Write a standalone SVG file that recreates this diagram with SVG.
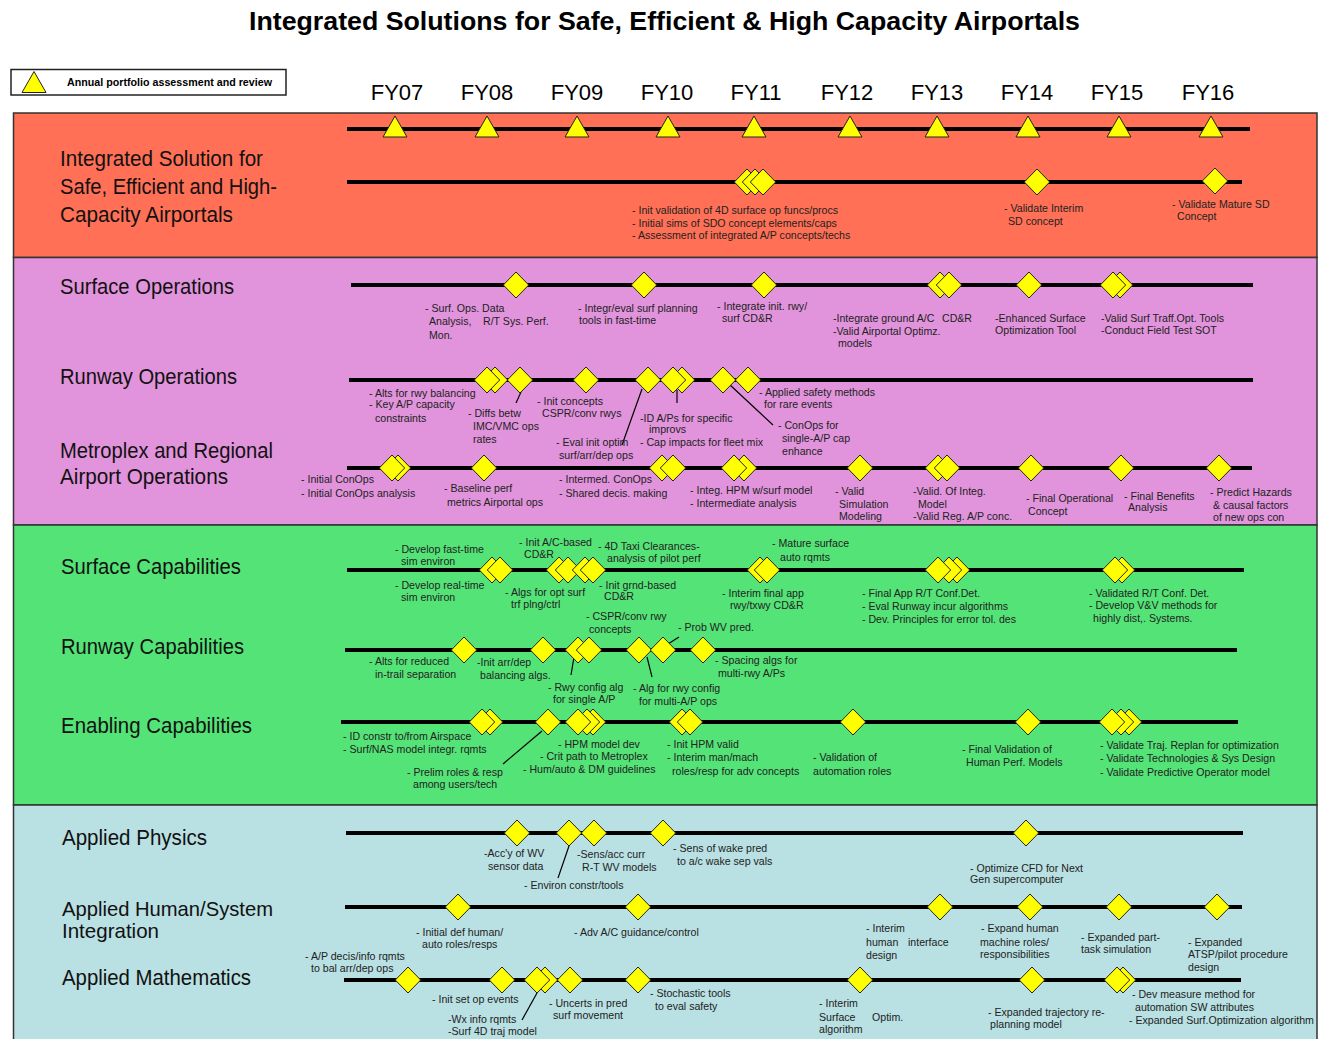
<svg xmlns="http://www.w3.org/2000/svg" width="1321" height="1039" viewBox="0 0 1321 1039">
<style>
.ttl{font-family:"Liberation Sans",Arial,sans-serif;font-weight:bold;font-size:26.7px;fill:#000}
.leg{font-family:"Liberation Sans",Arial,sans-serif;font-weight:bold;font-size:10.7px;fill:#000}
.fy{font-family:"Liberation Sans",Arial,sans-serif;font-size:22px;fill:#000;text-anchor:middle}
.lbl{font-family:"Liberation Sans",Arial,sans-serif;font-size:22px;fill:#111}
.t{font-family:"Liberation Sans",Arial,sans-serif;font-size:10.6px;fill:#222}
.tl{stroke:#000;stroke-width:4;fill:none}
.ld{stroke:#000;stroke-width:1.2;fill:none}
.band{stroke:#333;stroke-width:1.5}
</style>
<defs>
<path id="dm" d="M0,-13 L12.7,0 L0,13 L-12.7,0 Z" fill="#ffff00" stroke="#222" stroke-width="1"/>
<path id="tri" d="M0,-13 L12,8 L-12,8 Z" fill="#ffff00" stroke="#222" stroke-width="1"/>
</defs>
<rect width="1321" height="1039" fill="#fff"/>

<!-- heading -->
<text class="ttl" x="664.5" y="30" text-anchor="middle" textLength="831" lengthAdjust="spacingAndGlyphs">Integrated Solutions for Safe, Efficient &amp; High Capacity Airportals</text>

<!-- legend -->
<g id="legend">
<rect x="11" y="69.5" width="275" height="25.5" fill="#fff" stroke="#222" stroke-width="1.5"/>
<use href="#tri" x="34" y="84.5"/>
<text class="leg" x="67" y="86" textLength="205" lengthAdjust="spacingAndGlyphs">Annual portfolio assessment and review</text>
</g>

<!-- fiscal years -->
<g id="years">
<text class="fy" x="397" y="100">FY07</text>
<text class="fy" x="487" y="100">FY08</text>
<text class="fy" x="577" y="100">FY09</text>
<text class="fy" x="667" y="100">FY10</text>
<text class="fy" x="756" y="100">FY11</text>
<text class="fy" x="847" y="100">FY12</text>
<text class="fy" x="937" y="100">FY13</text>
<text class="fy" x="1027" y="100">FY14</text>
<text class="fy" x="1117" y="100">FY15</text>
<text class="fy" x="1208" y="100">FY16</text>
</g>

<!-- swimlane backgrounds -->
<g id="bands">
<rect class="band" x="13.5" y="113" width="1303.5" height="144.5" fill="#ff7056"/>
<rect class="band" x="13.5" y="257.5" width="1303.5" height="267.5" fill="#e194dc"/>
<rect class="band" x="13.5" y="525" width="1303.5" height="280" fill="#54e377"/>
<rect class="band" x="13.5" y="805" width="1303.5" height="240" fill="#b9e0e3"/>
</g>

<!-- lane titles -->
<g id="lane-titles">
<text class="lbl" style="font-size:21.5px" x="60" y="166" textLength="203" lengthAdjust="spacingAndGlyphs">Integrated Solution for</text>
<text class="lbl" style="font-size:21.5px" x="60" y="194" textLength="217" lengthAdjust="spacingAndGlyphs">Safe, Efficient and High-</text>
<text class="lbl" style="font-size:21.5px" x="60" y="222" textLength="173" lengthAdjust="spacingAndGlyphs">Capacity Airportals</text>
<text class="lbl" x="60" y="294" textLength="174" lengthAdjust="spacingAndGlyphs">Surface Operations</text>
<text class="lbl" x="60" y="384" textLength="177" lengthAdjust="spacingAndGlyphs">Runway Operations</text>
<text class="lbl" x="60" y="458" textLength="213" lengthAdjust="spacingAndGlyphs">Metroplex and Regional</text>
<text class="lbl" x="60" y="484" textLength="168" lengthAdjust="spacingAndGlyphs">Airport Operations</text>
<text class="lbl" x="61" y="574" textLength="180" lengthAdjust="spacingAndGlyphs">Surface Capabilities</text>
<text class="lbl" x="61" y="654" textLength="183" lengthAdjust="spacingAndGlyphs">Runway Capabilities</text>
<text class="lbl" x="61" y="733" textLength="191" lengthAdjust="spacingAndGlyphs">Enabling Capabilities</text>
<text class="lbl" x="62" y="845" textLength="145" lengthAdjust="spacingAndGlyphs">Applied Physics</text>
<text class="lbl" style="font-size:21px" x="62" y="916" textLength="211" lengthAdjust="spacingAndGlyphs">Applied Human/System</text>
<text class="lbl" style="font-size:21px" x="62" y="938" textLength="97" lengthAdjust="spacingAndGlyphs">Integration</text>
<text class="lbl" x="62" y="985" textLength="189" lengthAdjust="spacingAndGlyphs">Applied Mathematics</text>
</g>

<!-- timelines and leader lines -->
<g id="connectors">
<line class="tl" x1="347" y1="129" x2="1250" y2="129"/>
<line class="tl" x1="347" y1="182" x2="1242" y2="182"/>
<line class="tl" x1="351" y1="285" x2="1253" y2="285"/>
<line class="tl" x1="349" y1="380" x2="1253" y2="380"/>
<line class="tl" x1="347" y1="468" x2="1252" y2="468"/>
<line class="tl" x1="347" y1="570" x2="1244" y2="570"/>
<line class="tl" x1="345" y1="650" x2="1237" y2="650"/>
<line class="tl" x1="341" y1="722" x2="1238" y2="722"/>
<line class="tl" x1="346" y1="833" x2="1243" y2="833"/>
<line class="tl" x1="345" y1="907" x2="1242" y2="907"/>
<line class="tl" x1="344" y1="980" x2="1241" y2="980"/>
<line class="ld" x1="516" y1="403" x2="521" y2="392"/>
<line class="ld" x1="622" y1="445" x2="642" y2="389"/>
<line class="ld" x1="677" y1="390" x2="677" y2="403"/>
<line class="ld" x1="729" y1="384" x2="773" y2="425"/>
<line class="ld" x1="571" y1="675" x2="574" y2="657"/>
<line class="ld" x1="652" y1="677" x2="647" y2="657"/>
<line class="ld" x1="679" y1="637" x2="668" y2="644"/>
<line class="ld" x1="503" y1="764" x2="542" y2="731"/>
<line class="ld" x1="558" y1="878" x2="569" y2="846"/>
<line class="ld" x1="522" y1="1020" x2="537" y2="993"/>
</g>

<!-- annual reviews -->
<g id="reviews">
<use href="#tri" x="395" y="129"/><use href="#tri" x="487" y="129"/><use href="#tri" x="577" y="129"/>
<use href="#tri" x="668" y="129"/><use href="#tri" x="754" y="129"/><use href="#tri" x="850" y="129"/>
<use href="#tri" x="937" y="129"/><use href="#tri" x="1028" y="129"/><use href="#tri" x="1119" y="129"/>
<use href="#tri" x="1211" y="129"/>
</g>

<g id="integrated-solution">
<use href="#dm" x="747" y="182"/><use href="#dm" x="755" y="182"/><use href="#dm" x="763" y="182"/>
<use href="#dm" x="1037" y="182"/><use href="#dm" x="1215" y="181"/>
<text class="t" x="632" y="214">- Init validation of 4D surface op funcs/procs</text>
<text class="t" x="632" y="226.5">- Initial sims of SDO concept elements/caps</text>
<text class="t" x="632" y="239">- Assessment of integrated A/P concepts/techs</text>
<text class="t" x="1004" y="212">- Validate Interim</text>
<text class="t" x="1008" y="225">SD concept</text>
<text class="t" x="1172" y="208">- Validate Mature SD</text>
<text class="t" x="1177" y="220">Concept</text>
</g>

<g id="surface-operations">
<use href="#dm" x="516" y="285"/><use href="#dm" x="644" y="285"/><use href="#dm" x="764" y="285"/>
<use href="#dm" x="940" y="285"/><use href="#dm" x="949" y="285"/><use href="#dm" x="1029" y="285"/>
<use href="#dm" x="1120" y="285"/><use href="#dm" x="1113" y="285"/>
<text class="t" x="425" y="312">- Surf. Ops. Data</text>
<text class="t" x="429" y="325">Analysis,</text><text class="t" x="483" y="325">R/T Sys. Perf.</text>
<text class="t" x="429" y="338.5">Mon.</text>
<text class="t" x="578" y="311.5">- Integr/eval surf planning</text>
<text class="t" x="579" y="324">tools in fast-time</text>
<text class="t" x="717" y="309.5">- Integrate init. rwy/</text>
<text class="t" x="722" y="321.5">surf CD&amp;R</text>
<text class="t" x="833" y="321.5">-Integrate ground A/C</text><text class="t" x="942" y="321.5">CD&amp;R</text>
<text class="t" x="833" y="334.5">-Valid Airportal Optimz.</text>
<text class="t" x="838" y="347">models</text>
<text class="t" x="995" y="321.5">-Enhanced Surface</text>
<text class="t" x="995" y="334">Optimization Tool</text>
<text class="t" x="1101" y="321.5">-Valid Surf Traff.Opt. Tools</text>
<text class="t" x="1101" y="334">-Conduct Field Test SOT</text>
</g>

<g id="runway-operations">
<use href="#dm" x="495" y="380"/><use href="#dm" x="487" y="380"/><use href="#dm" x="520" y="380"/>
<use href="#dm" x="586" y="380"/><use href="#dm" x="648" y="380"/>
<use href="#dm" x="682" y="380"/><use href="#dm" x="673" y="380"/>
<use href="#dm" x="723" y="380"/><use href="#dm" x="748" y="380"/>
<text class="t" x="369" y="396.5">- Alts for rwy balancing</text>
<text class="t" x="369" y="408">- Key A/P capacity</text>
<text class="t" x="375" y="421.5">constraints</text>
<text class="t" x="468" y="416.5">- Diffs betw</text>
<text class="t" x="473" y="429.5">IMC/VMC ops</text>
<text class="t" x="473" y="442.5">rates</text>
<text class="t" x="537" y="405">- Init concepts</text>
<text class="t" x="542" y="417">CSPR/conv rwys</text>
<text class="t" x="556" y="446">- Eval init optim</text>
<text class="t" x="559" y="459">surf/arr/dep ops</text>
<text class="t" x="640" y="422">-ID A/Ps for specific</text>
<text class="t" x="649" y="433">improvs</text>
<text class="t" x="640" y="446">- Cap impacts for fleet mix</text>
<text class="t" x="759" y="395.5">- Applied safety methods</text>
<text class="t" x="764" y="408">for rare events</text>
<text class="t" x="778" y="429">- ConOps for</text>
<text class="t" x="782" y="442">single-A/P cap</text>
<text class="t" x="782" y="454.5">enhance</text>
</g>

<g id="metroplex-operations">
<use href="#dm" x="398" y="468"/><use href="#dm" x="392" y="468"/><use href="#dm" x="484" y="468"/>
<use href="#dm" x="662" y="468"/><use href="#dm" x="673" y="468"/>
<use href="#dm" x="744" y="468"/><use href="#dm" x="734" y="468"/>
<use href="#dm" x="860" y="468"/>
<use href="#dm" x="938" y="468"/><use href="#dm" x="947" y="468"/>
<use href="#dm" x="1031" y="468"/><use href="#dm" x="1121" y="468"/><use href="#dm" x="1219" y="468"/>
<text class="t" x="301" y="483">- Initial ConOps</text>
<text class="t" x="301" y="496.5">- Initial ConOps analysis</text>
<text class="t" x="444" y="492">- Baseline perf</text>
<text class="t" x="447" y="505.5">metrics Airportal ops</text>
<text class="t" x="559" y="483">- Intermed. ConOps</text>
<text class="t" x="559" y="497">- Shared decis. making</text>
<text class="t" x="690" y="493.5">-  Integ. HPM w/surf model</text>
<text class="t" x="690" y="507">- Intermediate analysis</text>
<text class="t" x="835" y="495">- Valid</text>
<text class="t" x="839" y="508">Simulation</text>
<text class="t" x="839" y="520">Modeling</text>
<text class="t" x="913" y="495">-Valid. Of Integ.</text>
<text class="t" x="918" y="508">Model</text>
<text class="t" x="913" y="520">-Valid Reg. A/P conc.</text>
<text class="t" x="1026" y="502">- Final Operational</text>
<text class="t" x="1028" y="515">Concept</text>
<text class="t" x="1124" y="499.5">- Final Benefits</text>
<text class="t" x="1128" y="511">Analysis</text>
<text class="t" x="1210" y="495.5">- Predict Hazards</text>
<text class="t" x="1213" y="508.5">&amp; causal factors</text>
<text class="t" x="1213" y="520.5">of new ops con</text>
</g>

<g id="surface-capabilities">
<use href="#dm" x="492" y="570"/><use href="#dm" x="500" y="570"/>
<use href="#dm" x="559" y="570"/><use href="#dm" x="568" y="570"/>
<use href="#dm" x="585" y="570"/><use href="#dm" x="593" y="570"/>
<use href="#dm" x="760" y="570"/><use href="#dm" x="767" y="570"/>
<use href="#dm" x="957" y="570"/><use href="#dm" x="949" y="570"/><use href="#dm" x="938" y="570"/>
<use href="#dm" x="1122" y="570"/><use href="#dm" x="1115" y="570"/>
<text class="t" x="395" y="552.5">- Develop fast-time</text>
<text class="t" x="401" y="564.5">sim environ</text>
<text class="t" x="395" y="588.5">- Develop  real-time</text>
<text class="t" x="401" y="601">sim environ</text>
<text class="t" x="519" y="545.5">- Init A/C-based</text>
<text class="t" x="524" y="558">CD&amp;R</text>
<text class="t" x="598" y="549.5">- 4D Taxi Clearances-</text>
<text class="t" x="607" y="562">analysis of pilot perf</text>
<text class="t" x="505" y="595.5">- Algs for opt surf</text>
<text class="t" x="511" y="608">trf plng/ctrl</text>
<text class="t" x="599" y="588.5">- Init grnd-based</text>
<text class="t" x="604" y="600">CD&amp;R</text>
<text class="t" x="772" y="547">- Mature surface</text>
<text class="t" x="780" y="560.5">auto rqmts</text>
<text class="t" x="722" y="596.5">- Interim final app</text>
<text class="t" x="730" y="609">rwy/txwy CD&amp;R</text>
<text class="t" x="862" y="597">- Final App R/T Conf.Det.</text>
<text class="t" x="862" y="610">- Eval Runway incur algorithms</text>
<text class="t" x="862" y="623">- Dev. Principles for error tol. des</text>
<text class="t" x="1089" y="596.5">- Validated R/T Conf. Det.</text>
<text class="t" x="1089" y="609">- Develop V&amp;V methods for</text>
<text class="t" x="1093" y="622">highly dist,. Systems.</text>
</g>

<g id="runway-capabilities">
<use href="#dm" x="464" y="650"/><use href="#dm" x="543" y="650"/>
<use href="#dm" x="578" y="650"/><use href="#dm" x="589" y="650"/>
<use href="#dm" x="639" y="650"/><use href="#dm" x="663" y="650"/><use href="#dm" x="703" y="650"/>
<text class="t" x="586" y="619.5">- CSPR/conv rwy</text>
<text class="t" x="589" y="632.5">concepts</text>
<text class="t" x="678" y="630.5">- Prob WV pred.</text>
<text class="t" x="369" y="664.5">- Alts for reduced</text>
<text class="t" x="375" y="677.5">in-trail separation</text>
<text class="t" x="477" y="666">-Init arr/dep</text>
<text class="t" x="480" y="678.5">balancing algs.</text>
<text class="t" x="548" y="691">- Rwy config alg</text>
<text class="t" x="553" y="702.5">for single A/P</text>
<text class="t" x="633" y="692">- Alg for rwy config</text>
<text class="t" x="639" y="704.5">for multi-A/P ops</text>
<text class="t" x="715" y="664">- Spacing algs for</text>
<text class="t" x="718" y="676.5">multi-rwy A/Ps</text>
</g>

<g id="enabling-capabilities">
<use href="#dm" x="490" y="722"/><use href="#dm" x="482" y="722"/><use href="#dm" x="548" y="722"/>
<use href="#dm" x="593" y="722"/><use href="#dm" x="587" y="722"/><use href="#dm" x="578" y="722"/>
<use href="#dm" x="682" y="722"/><use href="#dm" x="690" y="722"/>
<use href="#dm" x="853" y="722"/><use href="#dm" x="1028" y="722"/>
<use href="#dm" x="1129" y="722"/><use href="#dm" x="1121" y="722"/><use href="#dm" x="1112" y="722"/>
<text class="t" x="343" y="740">- ID constr to/from Airspace</text>
<text class="t" x="343" y="753">- Surf/NAS model integr. rqmts</text>
<text class="t" x="407" y="776">- Prelim roles &amp; resp</text>
<text class="t" x="413" y="787.5">among users/tech</text>
<text class="t" x="558" y="747.5">- HPM model dev</text>
<text class="t" x="540" y="759.5">- Crit path to Metroplex</text>
<text class="t" x="523" y="773">- Hum/auto &amp; DM guidelines</text>
<text class="t" x="667" y="747.5">- Init HPM valid</text>
<text class="t" x="667" y="761">- Interim  man/mach</text>
<text class="t" x="672" y="774.5">roles/resp for adv concepts</text>
<text class="t" x="813" y="761">- Validation of</text>
<text class="t" x="813" y="774.5">automation roles</text>
<text class="t" x="962" y="752.5">- Final Validation of</text>
<text class="t" x="966" y="766">Human Perf. Models</text>
<text class="t" x="1100" y="749">- Validate Traj. Replan  for optimization</text>
<text class="t" x="1100" y="762">- Validate Technologies &amp; Sys Design</text>
<text class="t" x="1100" y="775.5">- Validate  Predictive Operator model</text>
</g>

<g id="applied-physics">
<use href="#dm" x="517" y="833"/><use href="#dm" x="569" y="833"/><use href="#dm" x="594" y="833"/>
<use href="#dm" x="663" y="833"/><use href="#dm" x="1026" y="833"/>
<text class="t" x="484" y="857">-Acc'y of WV</text>
<text class="t" x="488" y="869.5">sensor data</text>
<text class="t" x="577" y="857.5">-Sens/acc curr</text>
<text class="t" x="582" y="870.5">R-T WV models</text>
<text class="t" x="524" y="889">- Environ constr/tools</text>
<text class="t" x="673" y="852">- Sens of wake pred</text>
<text class="t" x="677" y="864.5">to a/c wake sep vals</text>
<text class="t" x="970" y="871.5">- Optimize CFD for Next</text>
<text class="t" x="970" y="883">Gen supercomputer</text>
</g>

<g id="applied-human-system">
<use href="#dm" x="458" y="907"/><use href="#dm" x="638" y="907"/><use href="#dm" x="940" y="907"/>
<use href="#dm" x="1030" y="907"/><use href="#dm" x="1119" y="907"/><use href="#dm" x="1217" y="907"/>
<text class="t" x="416" y="935.5">- Initial def human/</text>
<text class="t" x="422" y="948">auto roles/resps</text>
<text class="t" x="574" y="935.5">- Adv A/C guidance/control</text>
<text class="t" x="866" y="932">- Interim</text>
<text class="t" x="866" y="945.5">human</text><text class="t" x="908" y="945.5">interface</text>
<text class="t" x="866" y="958.5">design</text>
<text class="t" x="981" y="932">- Expand human</text>
<text class="t" x="980" y="945.5">machine roles/</text>
<text class="t" x="980" y="958">responsibilities</text>
<text class="t" x="1081" y="940.5">- Expanded part-</text>
<text class="t" x="1081" y="953">task simulation</text>
<text class="t" x="1188" y="945.5">- Expanded</text>
<text class="t" x="1188" y="958">ATSP/pilot procedure</text>
<text class="t" x="1188" y="971">design</text>
</g>

<g id="applied-mathematics">
<use href="#dm" x="408" y="980"/><use href="#dm" x="502" y="980"/>
<use href="#dm" x="545" y="980"/><use href="#dm" x="537" y="980"/>
<use href="#dm" x="570" y="980"/><use href="#dm" x="638" y="980"/><use href="#dm" x="860" y="980"/>
<use href="#dm" x="1032" y="980"/><use href="#dm" x="1123" y="980"/><use href="#dm" x="1117" y="980"/>
<text class="t" x="305" y="959.5">- A/P decis/info rqmts</text>
<text class="t" x="311" y="972">to bal arr/dep ops</text>
<text class="t" x="432" y="1003">- Init set op events</text>
<text class="t" x="448" y="1022.5">-Wx info rqmts</text>
<text class="t" x="448" y="1034.5">-Surf 4D traj model</text>
<text class="t" x="549" y="1007">- Uncerts in pred</text>
<text class="t" x="553" y="1018.5">surf movement</text>
<text class="t" x="650" y="997">- Stochastic tools</text>
<text class="t" x="655" y="1010">to eval safety</text>
<text class="t" x="819" y="1007">- Interim</text>
<text class="t" x="819" y="1020.5">Surface</text><text class="t" x="872" y="1020.5">Optim.</text>
<text class="t" x="819" y="1033">algorithm</text>
<text class="t" x="988" y="1015.5">- Expanded trajectory re-</text>
<text class="t" x="990" y="1028">planning model</text>
<text class="t" x="1132" y="998">- Dev measure method for</text>
<text class="t" x="1135" y="1011">automation SW attributes</text>
<text class="t" x="1129" y="1023.5">- Expanded Surf.Optimization algorithm</text>
</g>
</svg>
